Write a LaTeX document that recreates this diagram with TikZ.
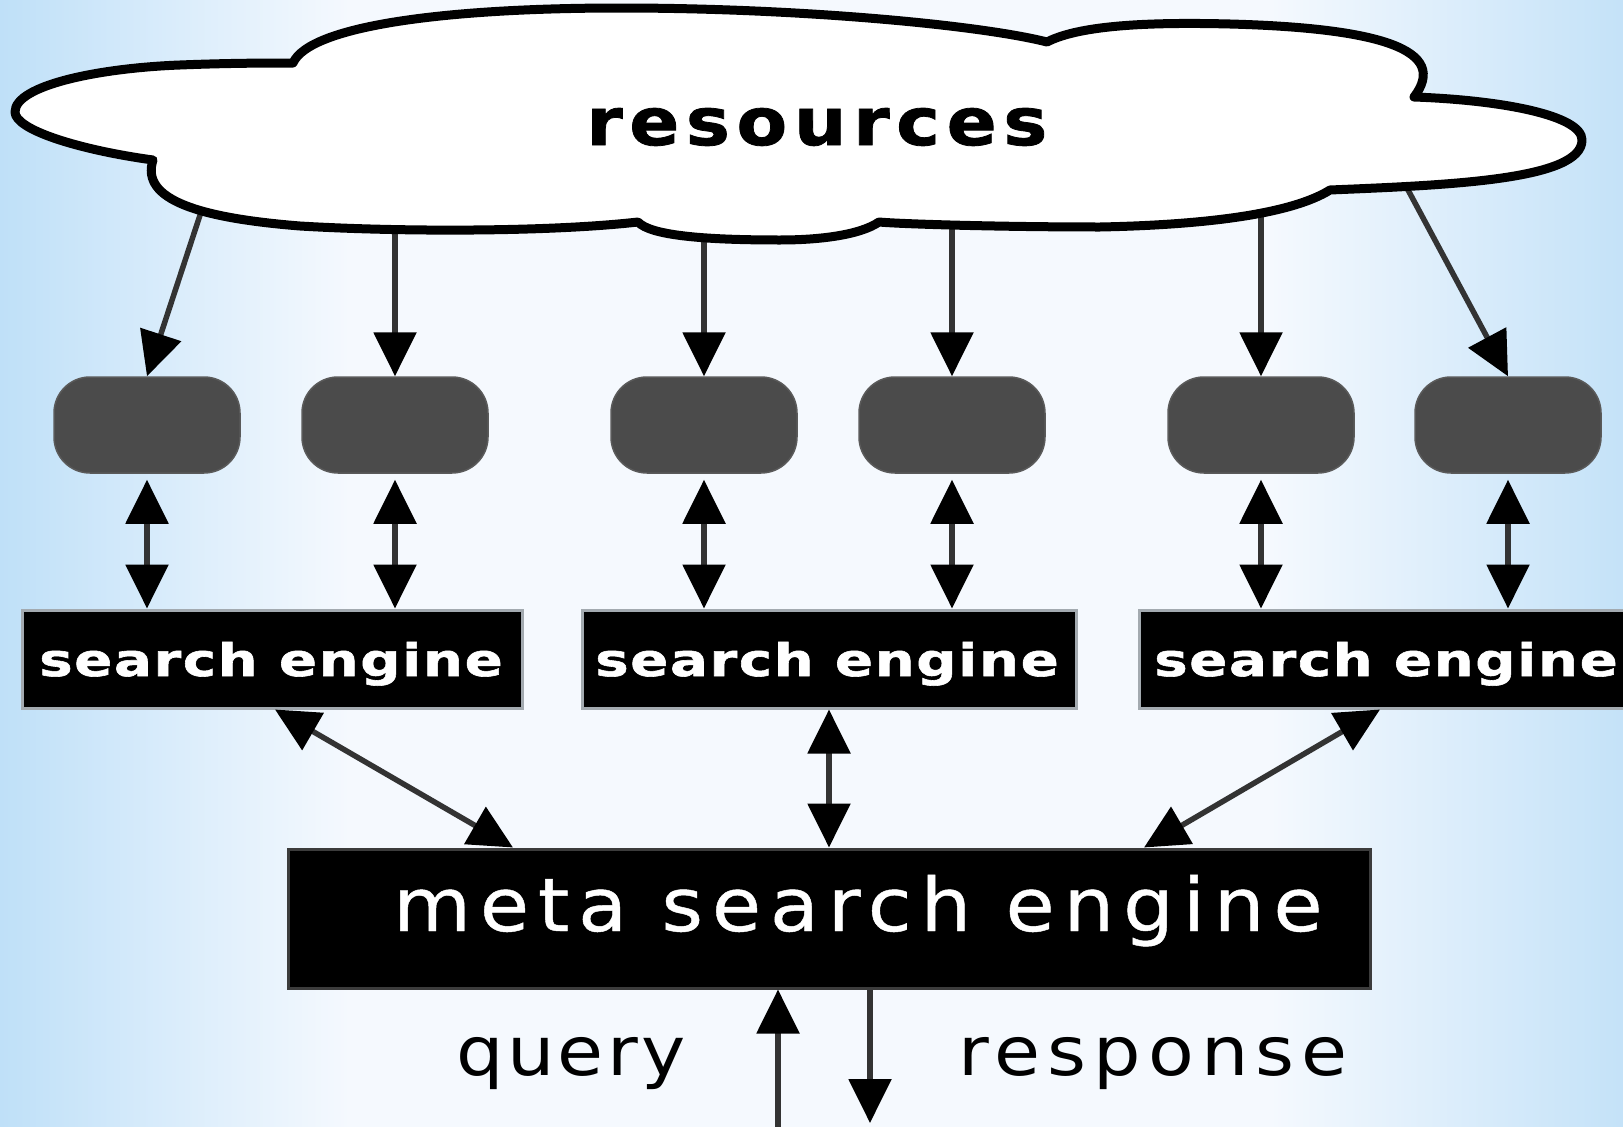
\documentclass[tikz,border=0pt]{standalone}
\usepackage{fontspec}
\usetikzlibrary{arrows.meta,fadings}
\newfontfamily\resfont[FakeStretch=1.12,LetterSpace=10,FakeBold=1.2]{DejaVu Sans Bold}
\newfontfamily\sefont[FakeStretch=1.25,LetterSpace=3.5,FakeBold=1.3]{DejaVu Sans Bold}
\newfontfamily\metafont[FakeStretch=1.08,LetterSpace=12,FakeBold=0.6]{DejaVu Sans}
\newfontfamily\qfont[FakeStretch=1.1,LetterSpace=5]{DejaVu Sans}
\newfontfamily\rfont[FakeStretch=1.1,LetterSpace=10.5]{DejaVu Sans}
\definecolor{bgedge}{HTML}{BFE0F8}
\definecolor{bgedgeR}{HTML}{C4E2F8}
\definecolor{bgmid}{HTML}{F5F9FE}
\definecolor{band}{HTML}{A4D1F3}
\definecolor{bandmid}{HTML}{D3E9FA}
\definecolor{pillgray}{HTML}{4B4B4B}
\definecolor{pilledge}{HTML}{5A5A5A}
\definecolor{linegray}{HTML}{333333}
\definecolor{seedge}{HTML}{A3AAB0}
\definecolor{metaedge}{HTML}{3C3C3C}
\tikzfading[name=vband, top color=transparent!100, middle color=transparent!0, bottom color=transparent!100]
\begin{document}
\begin{tikzpicture}[x=1pt,y=-1pt,
  arr/.style={line width=5.5pt, draw=linegray, -{Triangle[length=44pt,width=42pt,black]}},
  dbl/.style={line width=5.5pt, draw=linegray, {Triangle[length=44pt,width=42pt,black]}-{Triangle[length=44pt,width=42pt,black]}},
  pill/.style={rounded corners=36pt, fill=pillgray, draw=pilledge, line width=1.5pt, minimum width=186pt, minimum height=96pt, inner sep=0pt},
  sebox/.style={fill=black, draw=seedge, line width=3pt, minimum height=98pt, inner sep=0pt},
  metabox/.style={fill=black, draw=metaedge, line width=3pt, minimum width=1082pt, minimum height=139pt, inner sep=0pt},
  selabel/.style={anchor=base, inner sep=0pt, text=white, font=\sefont\fontsize{45}{48}\selectfont},
]
\useasboundingbox (0,0) rectangle (1623,1127);
% background
\shade[left color=bgedge, right color=bgmid] (0,0) rectangle (350,1127);
\fill[bgmid] (349,0) rectangle (1271,1127);
\shade[left color=bgmid, right color=bgedgeR] (1270,0) rectangle (1623,1127);
\shade[left color=band, right color=band, middle color=bandmid, path fading=vband] (0,800) rectangle (1623,885);
\shade[left color=band, right color=bgmid, path fading=vband] (0,720) rectangle (900,790);
% nodes
\node[pill] (p1) at (147,425) {};
\node[pill] (p2) at (395,425) {};
\node[pill] (p3) at (704,425) {};
\node[pill] (p4) at (952,425) {};
\node[pill] (p5) at (1261,425) {};
\node[pill] (p6) at (1508,425) {};
\node[sebox, minimum width=500pt] (s1) at (272,659) {};
\node[sebox, minimum width=494pt] (s2) at (829,659) {};
\node[sebox, minimum width=494pt] (s3) at (1386,659) {};
\node[selabel] (l1) at (271,676) {search engine};
\node[selabel] (l2) at (827,676) {search engine};
\node[selabel] (l3) at (1386,676) {search engine};
\node[metabox] (m) at (829,918.5) {};
\node[anchor=base west, inner sep=0pt, text=white, font=\metafont\fontsize{74}{80}\selectfont] (mlab) at (393,931) {meta search engine};
\node[anchor=base west, inner sep=0pt, text=black, font=\qfont\fontsize{68}{72}\selectfont] (q) at (456,1075) {query};
\node[anchor=base west, inner sep=0pt, text=black, font=\rfont\fontsize{68}{72}\selectfont] (r) at (958,1075) {response};
% cloud to pills
\coordinate (c1) at (205,200);
\coordinate (c2) at (395,215);
\coordinate (c3) at (704,220);
\coordinate (c4) at (952,212);
\coordinate (c5) at (1261,200);
\coordinate (c6) at (1400,175);
\draw[arr] (c1) -- (p1.north);
\draw[arr] (c2) -- (p2.north);
\draw[arr] (c3) -- (p3.north);
\draw[arr] (c4) -- (p4.north);
\draw[arr] (c5) -- (p5.north);
\draw[arr] (c6) -- (p6.north);
% pills to search engines
\draw[dbl, shorten <=6pt] (p1.south) -- (p1.south |- s1.north);
\draw[dbl, shorten <=6pt] (p2.south) -- (p2.south |- s1.north);
\draw[dbl, shorten <=6pt] (p3.south) -- (p3.south |- s2.north);
\draw[dbl, shorten <=6pt] (p4.south) -- (p4.south |- s2.north);
\draw[dbl, shorten <=6pt] (p5.south) -- (p5.south |- s3.north);
\draw[dbl, shorten <=6pt] (p6.south) -- (p6.south |- s3.north);
% search engines to meta
\draw[dbl] ([xshift=3pt]s1.south) -- ([xshift=-316pt]m.north);
\draw[dbl] (s2.south) -- (m.north);
\draw[dbl] ([xshift=-6pt]s3.south) -- ([xshift=315pt]m.north);
% query / response
\coordinate (qbot) at (778,1127);
\coordinate (rbot) at (870,1123);
\draw[arr] (qbot) -- (qbot |- m.south);
\draw[arr] (rbot |- m.south) -- (rbot);
% cloud
\draw[line width=9pt, fill=white, line join=round]
 (293,63) .. controls (310,25) and (450,8) .. (620,8)
 .. controls (800,8) and (980,25) .. (1047,42)
 .. controls (1080,25) and (1150,22) .. (1230,24)
 .. controls (1380,28) and (1450,50) .. (1414,97)
 .. controls (1500,100) and (1582,115) .. (1582,140)
 .. controls (1582,180) and (1450,185) .. (1330,190)
 .. controls (1290,215) and (1200,225) .. (1100,227)
 .. controls (1000,227) and (900,224) .. (879,222)
 .. controls (860,235) and (820,240) .. (780,240)
 .. controls (700,240) and (650,235) .. (638,222)
 .. controls (550,232) and (400,232) .. (300,226)
 .. controls (200,218) and (140,200) .. (153,160)
 .. controls (80,150) and (15,130) .. (15,112)
 .. controls (15,85) and (100,68) .. (180,65)
 .. controls (230,63) and (270,63) .. cycle;
\node[anchor=base west, inner sep=0pt, text=black, font=\resfont\fontsize{66}{70}\selectfont] (res) at (586,145) {resources};
\end{tikzpicture}
\end{document}
